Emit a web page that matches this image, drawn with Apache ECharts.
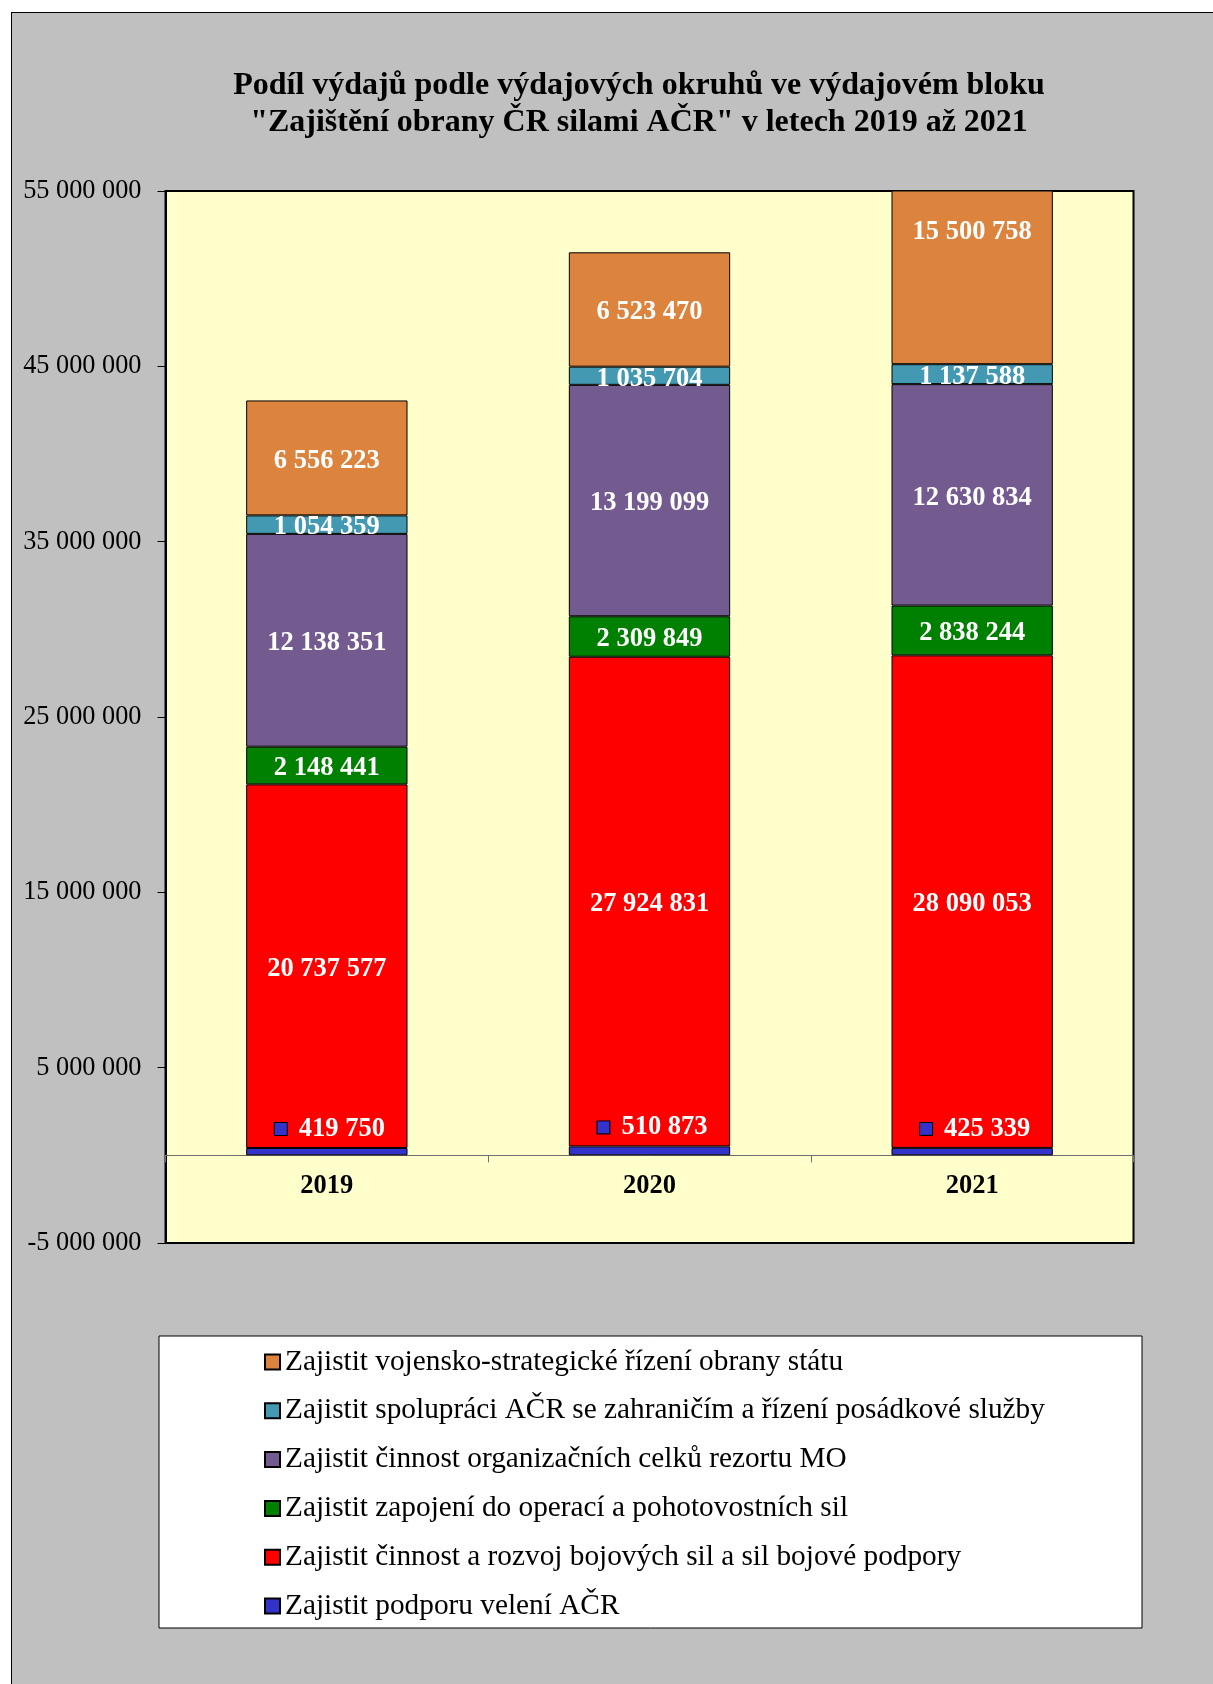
<!DOCTYPE html>
<html><head><meta charset="utf-8">
<script src="https://cdn.jsdelivr.net/npm/echarts@6/dist/echarts.min.js"></script>
<style>
html,body{margin:0;padding:0;background:#fff;}
#frame{position:absolute;left:11px;top:12px;width:1300px;height:1800px;background:#C0C0C0;border-left:1px solid #000;border-top:1px solid #000;}
#chart{position:absolute;left:0;top:0;width:1213px;height:1684px;}
</style></head>
<body>
<div id="frame"></div>
<div id="chart"></div>
<script>
const categories = ['2019', '2020', '2021'];
const seriesNames = [
  'Zajistit podporu velení AČR',
  'Zajistit činnost a rozvoj bojových sil a sil bojové podpory',
  'Zajistit zapojení do operací a pohotovostních sil',
  'Zajistit činnost organizačních celků rezortu MO',
  'Zajistit spolupráci AČR se zahraničím a řízení posádkové služby',
  'Zajistit vojensko-strategické řízení obrany státu'
];
const podporaVeleni = [419750, 510873, 425339];
const bojoveSily = [20737577, 27924831, 28090053];
const operace = [2148441, 2309849, 2838244];
const organizacniCelky = [12138351, 13199099, 12630834];
const spoluprace = [1054359, 1035704, 1137588];
const strategickeRizeni = [6556223, 6523470, 15500758];
const yTicks = {min: -5000000, max: 55000000, interval: 10000000};
const titleLines = ['Podíl výdajů podle výdajových okruhů ve výdajovém bloku', '"Zajištění obrany ČR silami AČR" v letech 2019 až 2021'];

const colors = ['#3333CC', '#FF0000', '#008000', '#735A8F', '#4499B2', '#DC843E'];
const FONT = '"Liberation Serif", "Times New Roman", serif';
const fmt = v => String(v).replace(/\B(?=(\d{3})+(?!\d))/g, ' ');
const allData = [podporaVeleni, bojoveSily, operace, organizacniCelky, spoluprace, strategickeRizeni];

const series = allData.map((arr, i) => {
  const data = arr.map(v => ({value: v}));
  const s = {
    name: seriesNames[i],
    type: 'bar',
    stack: 'total',
    barWidth: '50%',
    clip: true,
    data: data,
    itemStyle: {color: colors[i], borderColor: '#000', borderWidth: 1},
    label: {
      show: true,
      position: 'inside',
      offset: [0, 3],
      color: '#fff',
      fontFamily: FONT,
      fontWeight: 'bold',
      fontSize: 26.5,
      formatter: p => fmt(p.value)
    }
  };
  if (i === 0) {
    s.label = {
      show: true,
      position: 'top',
      distance: 6,
      offset: [3, 0],
      formatter: p => '{sq|}{g|}{v|' + fmt(p.value) + '}',
      rich: {
        sq: {width: 12, height: 12, backgroundColor: colors[0], borderColor: '#000', borderWidth: 1},
        g: {width: 12},
        v: {color: '#fff', fontFamily: FONT, fontWeight: 'bold', fontSize: 26.5, lineHeight: 26}
      }
    };
  }
  if (i === 5) {
    // the 2021 bar is cut off at the top of the plot; its label sits near the top of the visible part
    data[2].label = {position: 'insideTop', distance: 28, offset: [0, 0]};
  }
  return s;
});

const chart = echarts.init(document.getElementById('chart'));
chart.setOption({
  backgroundColor: 'transparent',
  animation: false,
  title: {
    text: titleLines.join('\n'),
    left: 639,
    top: 67,
    padding: 0,
    textAlign: 'center',
    textStyle: {fontFamily: FONT, fontWeight: 'bold', fontSize: 32, lineHeight: 37, color: '#000'}
  },
  graphic: [{
    type: 'rect',
    shape: {x: 159, y: 1336, width: 983, height: 292},
    style: {fill: '#fff', stroke: '#000', lineWidth: 1},
    z: 0
  }],
  legend: {
    orient: 'vertical',
    left: 264,
    top: 1347,
    padding: 0,
    itemGap: 18.8,
    itemWidth: 15,
    itemHeight: 15,
    icon: 'rect',
    data: seriesNames.slice().reverse(),
    textStyle: {fontFamily: FONT, fontSize: 29.3, lineHeight: 30, color: '#000'}
  },
  grid: {
    left: 165.5, top: 191, width: 968, height: 1052,
    show: true, backgroundColor: '#FFFFCC', borderColor: '#000', borderWidth: 2,
    containLabel: false
  },
  xAxis: {
    type: 'category',
    data: categories,
    axisLine: {onZero: true, lineStyle: {color: '#707070', width: 1}},
    axisTick: {show: true, length: 7, lineStyle: {color: '#707070'}},
    axisLabel: {margin: -70, fontFamily: FONT, fontWeight: 'bold', fontSize: 26.5, color: '#000'},
    splitLine: {show: false}
  },
  yAxis: {
    type: 'value',
    min: yTicks.min, max: yTicks.max, interval: yTicks.interval,
    axisLine: {show: true, lineStyle: {color: '#000', width: 2}},
    axisTick: {show: true, length: 8, lineStyle: {color: '#000'}},
    axisLabel: {margin: 24, fontFamily: FONT, fontSize: 26.3, color: '#000', formatter: v => fmt(v), padding: [8, 0, 0, 0]},
    splitLine: {show: false}
  },
  series: series
});
</script>
</body></html>
